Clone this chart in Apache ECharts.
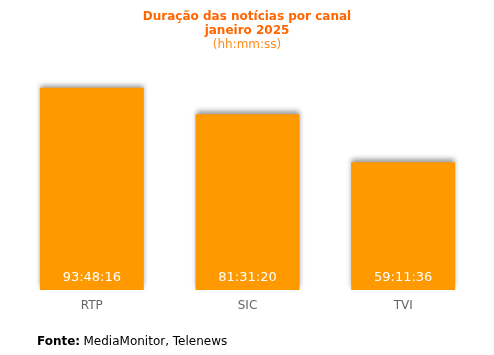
<!DOCTYPE html>
<html>
<head>
<meta charset="utf-8">
<script src="https://cdn.jsdelivr.net/npm/echarts@6/dist/echarts.min.js"></script>
<style>
  html, body { margin: 0; padding: 0; background: #fff; }
  #chart { width: 494px; height: 355px; }
</style>
</head>
<body>
<div id="chart"></div>
<script type="text/javascript">
    var canais = ['RTP', 'SIC', 'TVI'];
    // duração em segundos (hh:mm:ss)
    var duracao = [337696, 293480, 213096];

    function hms(s) {
        var h = Math.floor(s / 3600);
        var m = Math.floor((s % 3600) / 60);
        var ss = s % 60;
        return h + ':' + (m < 10 ? '0' : '') + m + ':' + (ss < 10 ? '0' : '') + ss;
    }

    var chart = echarts.init(document.getElementById('chart'));
    var option = {
        animation: false,
        title: {
            text: '{a|Duração das notícias por canal}\n{a|janeiro 2025}\n{b|(hh:mm:ss)}',
            left: 'center',
            top: 5,
            textStyle: {
                rich: {
                    a: { fontFamily: 'DejaVu Sans', fontSize: 12, fontWeight: 'bold', color: '#FF6600', lineHeight: 14 },
                    b: { fontFamily: 'DejaVu Sans', fontSize: 12, fontWeight: 'normal', color: '#FF8C1A', lineHeight: 14 }
                }
            }
        },
        grid: { left: 14, right: 13, top: 60, bottom: 65 },
        xAxis: {
            type: 'category',
            data: canais,
            axisLine: { show: false },
            axisTick: { show: false },
            axisLabel: { color: '#666', fontSize: 12, fontFamily: 'DejaVu Sans', margin: 10 }
        },
        yAxis: {
            type: 'value',
            min: 0,
            max: 384000,
            show: false,
            splitLine: { show: false }
        },
        graphic: [{
            type: 'text',
            left: 37,
            top: 336,
            style: {
                text: '{b|Fonte:} {r|MediaMonitor, Telenews}',
                rich: {
                    b: { fontFamily: 'DejaVu Sans', fontSize: 12, fontWeight: 'bold', fill: '#000' },
                    r: { fontFamily: 'DejaVu Sans', fontSize: 12, fill: '#000' }
                }
            }
        }],
        series: [{
            type: 'bar',
            data: duracao,
            barWidth: 104,
            itemStyle: {
                color: '#FF9900',
                shadowColor: 'rgba(0,0,0,0.4)',
                shadowBlur: 5,
                shadowOffsetY: -3
            },
            label: {
                show: true,
                position: 'insideBottom',
                distance: 6,
                color: '#fff',
                fontSize: 13,
                fontFamily: 'DejaVu Sans',
                formatter: function (p) { return hms(p.value); }
            }
        }]
    };
    chart.setOption(option);
</script>
</body>
</html>
